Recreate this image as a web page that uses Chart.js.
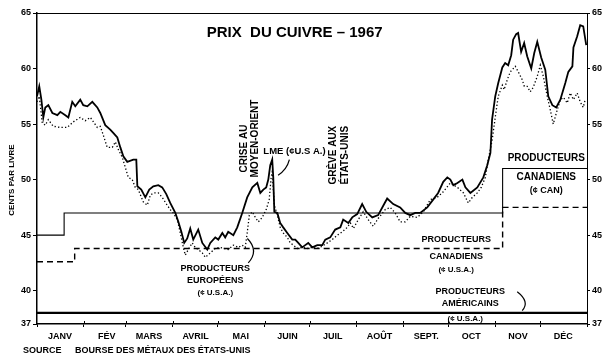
<!DOCTYPE html>
<html>
<head>
<meta charset="utf-8">
<script src="https://cdn.jsdelivr.net/npm/chart.js@4.4.0/dist/chart.umd.min.js"></script>
<style>
  html, body { margin: 0; padding: 0; background: #fff; }
  #wrap { width: 605px; height: 357px; }
</style>
</head>
<body>
<div id="wrap"><canvas id="cuivre" width="605" height="357"></canvas></div>
<script>
const mois = ['JANV', 'FÉV', 'MARS', 'AVRIL', 'MAI', 'JUIN', 'JUIL', 'AOÛT', 'SEPT.', 'OCT', 'NOV', 'DÉC'];
const debutMois = [0, 31, 59, 90, 120, 151, 181, 212, 243, 273, 304, 334, 365];
const graduationsPrix = [37, 40, 45, 50, 55, 60, 65];

// LME, cours au comptant : [jour de l'année, cents par livre]
const lme = [
  [0,57.5],[1.5,58.4],[2.9,57.2],[4.2,55.6],[5.5,56.5],[7.5,56.7],[10.2,56.0],[13.5,55.8],[15.5,56.1],[18.8,55.8],
  [20.8,55.6],[23.4,57.0],[25.4,56.6],[28.7,57.2],[30.7,56.7],[33.4,56.6],[36.7,57.0],[40,56.5],[42,56.0],[45.3,54.9],
  [48.6,54.5],[50.6,54.2],[53.3,53.8],[55.3,52.9],[57.3,52.1],[59.9,51.6],[63.9,51.8],[65.9,51.8],[66.6,49.4],[69.2,49.1],
  [71.9,48.4],[74.5,49.1],[77.2,49.4],[80.5,49.5],[83.1,49.3],[85.8,48.7],[88.4,47.9],[91.8,47.0],[93.8,46.2],[95.8,45.3],
  [97.7,44.3],[99.7,44.7],[101.7,45.6],[103.7,44.6],[107,45.5],[109.7,44.3],[113,43.7],[115,44.3],[118.3,44.8],[120.3,44.6],
  [123,45.2],[124.9,44.8],[126.9,45.3],[130.3,45.0],[132.9,45.7],[136.2,47.0],[139.5,48.4],[142.9,49.3],[146.2,49.7],[148.2,48.8],
  [150.2,49.1],[152.1,49.3],[153.5,50.0],[154.8,51.3],[156.1,51.8],[156.8,50.2],[157.5,47.1],[159.5,47.0],[161.4,46.1],[163.4,45.7],
  [166.1,45.2],[169.4,44.6],[171.4,44.6],[173.4,44.3],[176,43.9],[178,44.1],[180,44.3],[182.7,43.9],[186,44.1],[189.3,44.1],
  [191.3,44.6],[194.6,44.8],[197.9,45.5],[201.3,45.7],[203.2,46.4],[206.6,46.1],[209.2,46.6],[212.5,46.9],[215.8,47.8],[218.5,47.1],
  [222.5,46.6],[226.4,46.8],[230.4,47.8],[232.4,48.3],[236.4,47.8],[241,47.5],[244.4,47.0],[247.7,46.8],[251,47.0],[254.3,47.0],
  [259,47.5],[262.9,48.2],[266.2,48.8],[269.6,49.8],[272.3,50.2],[274.3,50.0],[276.3,49.5],[279,49.7],[282.3,50.0],[284.3,49.3],
  [287.6,48.8],[292.2,49.3],[296.2,50.2],[298.8,51.3],[300.9,52.4],[302,55.4],[304.1,57.5],[306.1,58.7],[308.8,60.1],[310.7,60.5],
  [312.7,60.3],[314.7,61.2],[316,62.6],[318,63.1],[319.3,63.2],[321.3,61.5],[323.3,62.3],[325.3,61.1],[328,60.0],[330,61.4],
  [332,62.4],[334.6,61.0],[337.3,59.9],[339.3,57.5],[342,56.7],[344.6,56.5],[347.3,57.2],[350.6,58.7],[352.6,59.7],[355.3,60.2],
  [356,61.9],[358.5,62.9],[360.5,63.9],[362.5,63.8],[364.5,62.1]
];

// producteurs européens (¢ U.S.A.)
const europeens = [
  [0,57.0],[1.5,57.5],[3.5,55.1],[5.5,54.9],[7.5,55.4],[10.8,54.8],[15.5,54.7],[20.1,54.7],[24.1,55.2],[28.7,55.6],
  [32,55.3],[35.4,55.6],[40,54.7],[42,54.8],[44,54.0],[46.6,52.9],[50,52.9],[52,53.4],[54,52.7],[56.6,52.0],
  [58.6,51.1],[60.6,50.2],[63.2,50.0],[65.2,49.3],[67.2,49.1],[70.5,48.0],[73.2,47.7],[75.2,48.6],[77.2,48.8],[80.5,48.8],
  [83.1,48.4],[86.4,47.7],[88.4,47.3],[90.4,47.0],[93.1,46.4],[95.1,45.2],[97.1,43.9],[98.4,43.2],[100.4,43.7],[103,44.3],
  [105,43.9],[107,43.7],[109.7,43.4],[111.7,43.0],[115,43.4],[118.3,43.8],[121.6,43.9],[126.9,43.7],[130.3,44.1],[133.6,43.9],
  [136.2,44.1],[138.2,43.9],[139.5,45.2],[140.9,46.8],[142.9,47.1],[144.9,46.6],[146.9,46.2],[149.5,46.6],[152.1,47.3],[154.1,48.2],
  [155.4,50.2],[156.1,50.7],[157.5,47.7],[159.5,46.8],[161.4,45.7],[163.4,45.2],[166.1,44.8],[168.1,44.3],[170.1,44.1],[172.7,43.8],
  [176,43.9],[179.4,43.8],[182.7,43.9],[186,43.8],[189.3,44.0],[192.6,44.3],[195.9,44.6],[199.3,45.0],[202.6,45.3],[205.9,45.7],
  [207.9,46.1],[210,45.6],[213.2,46.4],[216.5,47.1],[219.8,46.4],[223.1,45.8],[226.4,46.5],[231.1,47.3],[234.4,47.5],[237.7,47.0],
  [241,46.2],[244.4,46.2],[247.7,46.7],[252.4,46.6],[256.4,47.1],[261,48.2],[265.6,48.4],[269.6,48.9],[274.3,49.7],[279,49.3],
  [283,48.8],[286.2,47.9],[288.9,48.4],[292.2,48.8],[294.8,49.3],[297.5,50.2],[299.5,51.8],[302.1,53.6],[304.1,55.6],[306.1,57.5],
  [308.8,58.5],[310,58.1],[312.1,59.0],[314.1,59.7],[317.4,60.2],[319.4,59.7],[322,59.0],[323.4,58.4],[325.3,58.4],[327.3,57.9],
  [329.3,58.3],[332,59.3],[334,60.3],[336,59.3],[338.6,57.5],[340.6,56.3],[342.6,55.0],[345.3,56.3],[347.3,57.2],[349.3,57.4],
  [351.9,56.9],[353.9,57.8],[356,57.2],[358.5,57.8],[360.5,57.0],[362.5,56.5],[363.8,57.2]
];

// prix affichés des producteurs, par paliers
const canadiensCan = [[0,45],[18,47],[309,51],[365,51]];
const canadiensUsa = [[0,42.6],[25,43.8],[309,47.5],[365,47.5]];
const americains = [[0,38],[365,38]];

const police = "'Liberation Sans', Arial, sans-serif";
const pts = arr => arr.map(([x, y]) => ({ x, y }));

// cadre, repères du mois, titres et notes
const habillage = {
  id: 'habillage',
  afterDraw(chart) {
    const { ctx, chartArea: a, scales: { x, y } } = chart;
    const px = j => x.getPixelForValue(j);
    const py = v => y.getPixelForValue(v);
    ctx.save();
    ctx.strokeStyle = '#000';
    ctx.fillStyle = '#000';

    ctx.lineWidth = 1;
    ctx.beginPath();
    ctx.moveTo(a.left, a.top + 0.5);
    ctx.lineTo(a.right, a.top + 0.5);
    ctx.stroke();

    // petites croix sur l'axe du temps
    ctx.lineWidth = 1;
    debutMois.slice(1, -1).forEach(j => {
      const xx = Math.round(px(j)) + 0.5;
      ctx.beginPath();
      ctx.moveTo(xx, a.bottom - 3);
      ctx.lineTo(xx, a.bottom);
      ctx.stroke();
    });

    const texte = (t, j, v, taille, align = 'center') => {
      ctx.font = `bold ${taille}px ${police}`;
      ctx.textAlign = align;
      ctx.textBaseline = 'middle';
      ctx.fillText(t, px(j), py(v));
    };
    const vertical = (t, j, v, taille) => {
      ctx.save();
      ctx.translate(px(j), py(v));
      ctx.rotate(-Math.PI / 2);
      ctx.font = `bold ${taille}px ${police}`;
      ctx.textAlign = 'center';
      ctx.textBaseline = 'middle';
      ctx.fillText(t, 0, 0);
      ctx.restore();
    };
    const accolade = (j0, v0, jc, vc, j1, v1) => {
      ctx.lineWidth = 1.2;
      ctx.beginPath();
      ctx.moveTo(px(j0), py(v0));
      ctx.quadraticCurveTo(px(jc), py(vc), px(j1), py(v1));
      ctx.stroke();
    };

    texte('PRIX  DU CUIVRE – 1967', 171, 63.2, 15);

    vertical('CRISE AU', 137.7, 52.8, 10);
    vertical('MOYEN-ORIENT', 144.6, 53.7, 10);
    texte('LME (¢U.S A.)', 150.2, 52.5, 9.5, 'left');
    accolade(167.5, 51.8, 165.8, 50.9, 160, 50.4);
    vertical('GRÈVE AUX', 196.6, 52.2, 10);
    vertical('ÉTATS-UNIS', 204.8, 52.2, 10);

    texte('PRODUCTEURS', 118.3, 42.0, 9);
    texte('EUROPÉENS', 118.3, 40.9, 9);
    texte('(¢ U.S.A.)', 118.3, 39.8, 8);
    accolade(139.6, 44.7, 147.5, 43.6, 140.2, 42.5);

    texte('PRODUCTEURS', 278.2, 44.6, 9);
    texte('CANADIENS', 278.2, 43.1, 9);
    texte('(¢ U.S.A.)', 278.2, 41.9, 8);

    texte('PRODUCTEURS', 338, 51.9, 10);
    texte('CANADIENS', 338, 50.2, 10);
    texte('(¢ CAN)', 338, 49.0, 9);

    texte('PRODUCTEURS', 287.5, 39.9, 9);
    texte('AMÉRICAINS', 287.5, 38.8, 9);
    texte('(¢ U.S.A.)', 284.2, 37.5, 8);
    accolade(318.7, 39.9, 327.3, 39.0, 322, 38.2);

    // titre de l'axe et source
    ctx.save();
    ctx.translate(12, 180);
    ctx.rotate(-Math.PI / 2);
    ctx.font = `bold 8px ${police}`;
    ctx.textAlign = 'center';
    ctx.textBaseline = 'middle';
    ctx.fillText('CENTS PAR LIVRE', 0, 0);
    ctx.restore();

    ctx.font = `bold 9px ${police}`;
    ctx.textAlign = 'left';
    ctx.textBaseline = 'middle';
    ctx.fillText('SOURCE', 23, 351);
    ctx.fillText('BOURSE DES MÉTAUX DES ÉTATS-UNIS', 75, 351);
    ctx.restore();
  }
};

const axeY = position => ({
  type: 'linear',
  position,
  min: 37,
  max: 65,
  afterBuildTicks: s => { s.ticks = graduationsPrix.map(value => ({ value })); },
  afterFit: s => { s.width = position === 'left' ? 37 : 18; },
  grid: { drawOnChartArea: false, tickLength: position === 'left' ? 4 : 3, color: '#000' },
  border: { color: '#000', width: position === 'left' ? 1.5 : 1 },
  ticks: { color: '#000', padding: 2, font: { family: police, size: 9, weight: 'bold' } }
});

new Chart(document.getElementById('cuivre'), {
  type: 'line',
  data: {
    datasets: [
      { label: 'LME (¢ U.S.A.)', data: pts(lme), borderColor: '#000', borderWidth: 1.8, pointRadius: 0, tension: 0 },
      { label: 'Producteurs européens (¢ U.S.A.)', data: pts(europeens), borderColor: '#000', borderWidth: 1.3,
        borderDash: [1.3, 2.2], pointRadius: 0, tension: 0 },
      { label: 'Producteurs canadiens (¢ CAN)', data: pts(canadiensCan), borderColor: '#000', borderWidth: 1.1,
        stepped: 'before', pointRadius: 0 },
      { label: 'Producteurs canadiens (¢ U.S.A.)', data: pts(canadiensUsa), borderColor: '#000', borderWidth: 1.4,
        borderDash: [6, 4], stepped: 'before', pointRadius: 0 },
      { label: 'Producteurs américains (¢ U.S.A.)', data: pts(americains), borderColor: '#000', borderWidth: 2.2,
        pointRadius: 0 }
    ]
  },
  options: {
    responsive: false,
    animation: false,
    devicePixelRatio: 1,
    layout: { padding: { top: 13, left: 0, right: 0, bottom: 0 } },
    plugins: { legend: { display: false }, tooltip: { enabled: false }, title: { display: false } },
    scales: {
      x: {
        type: 'linear',
        min: 0,
        max: 365,
        afterBuildTicks: s => { s.ticks = debutMois.map(value => ({ value })); },
        afterFit: s => { s.height = 33; },
        grid: { drawOnChartArea: false, tickLength: 3, color: '#000' },
        border: { color: '#000', width: 1.5 },
        ticks: {
          color: '#000',
          autoSkip: false,
          maxRotation: 0,
          padding: 4,
          labelOffset: 23,
          font: { family: police, size: 9, weight: 'bold' },
          callback: (v, i) => mois[i] || ''
        }
      },
      y: axeY('left'),
      y2: axeY('right')
    }
  },
  plugins: [habillage]
});
</script>
</body>
</html>
